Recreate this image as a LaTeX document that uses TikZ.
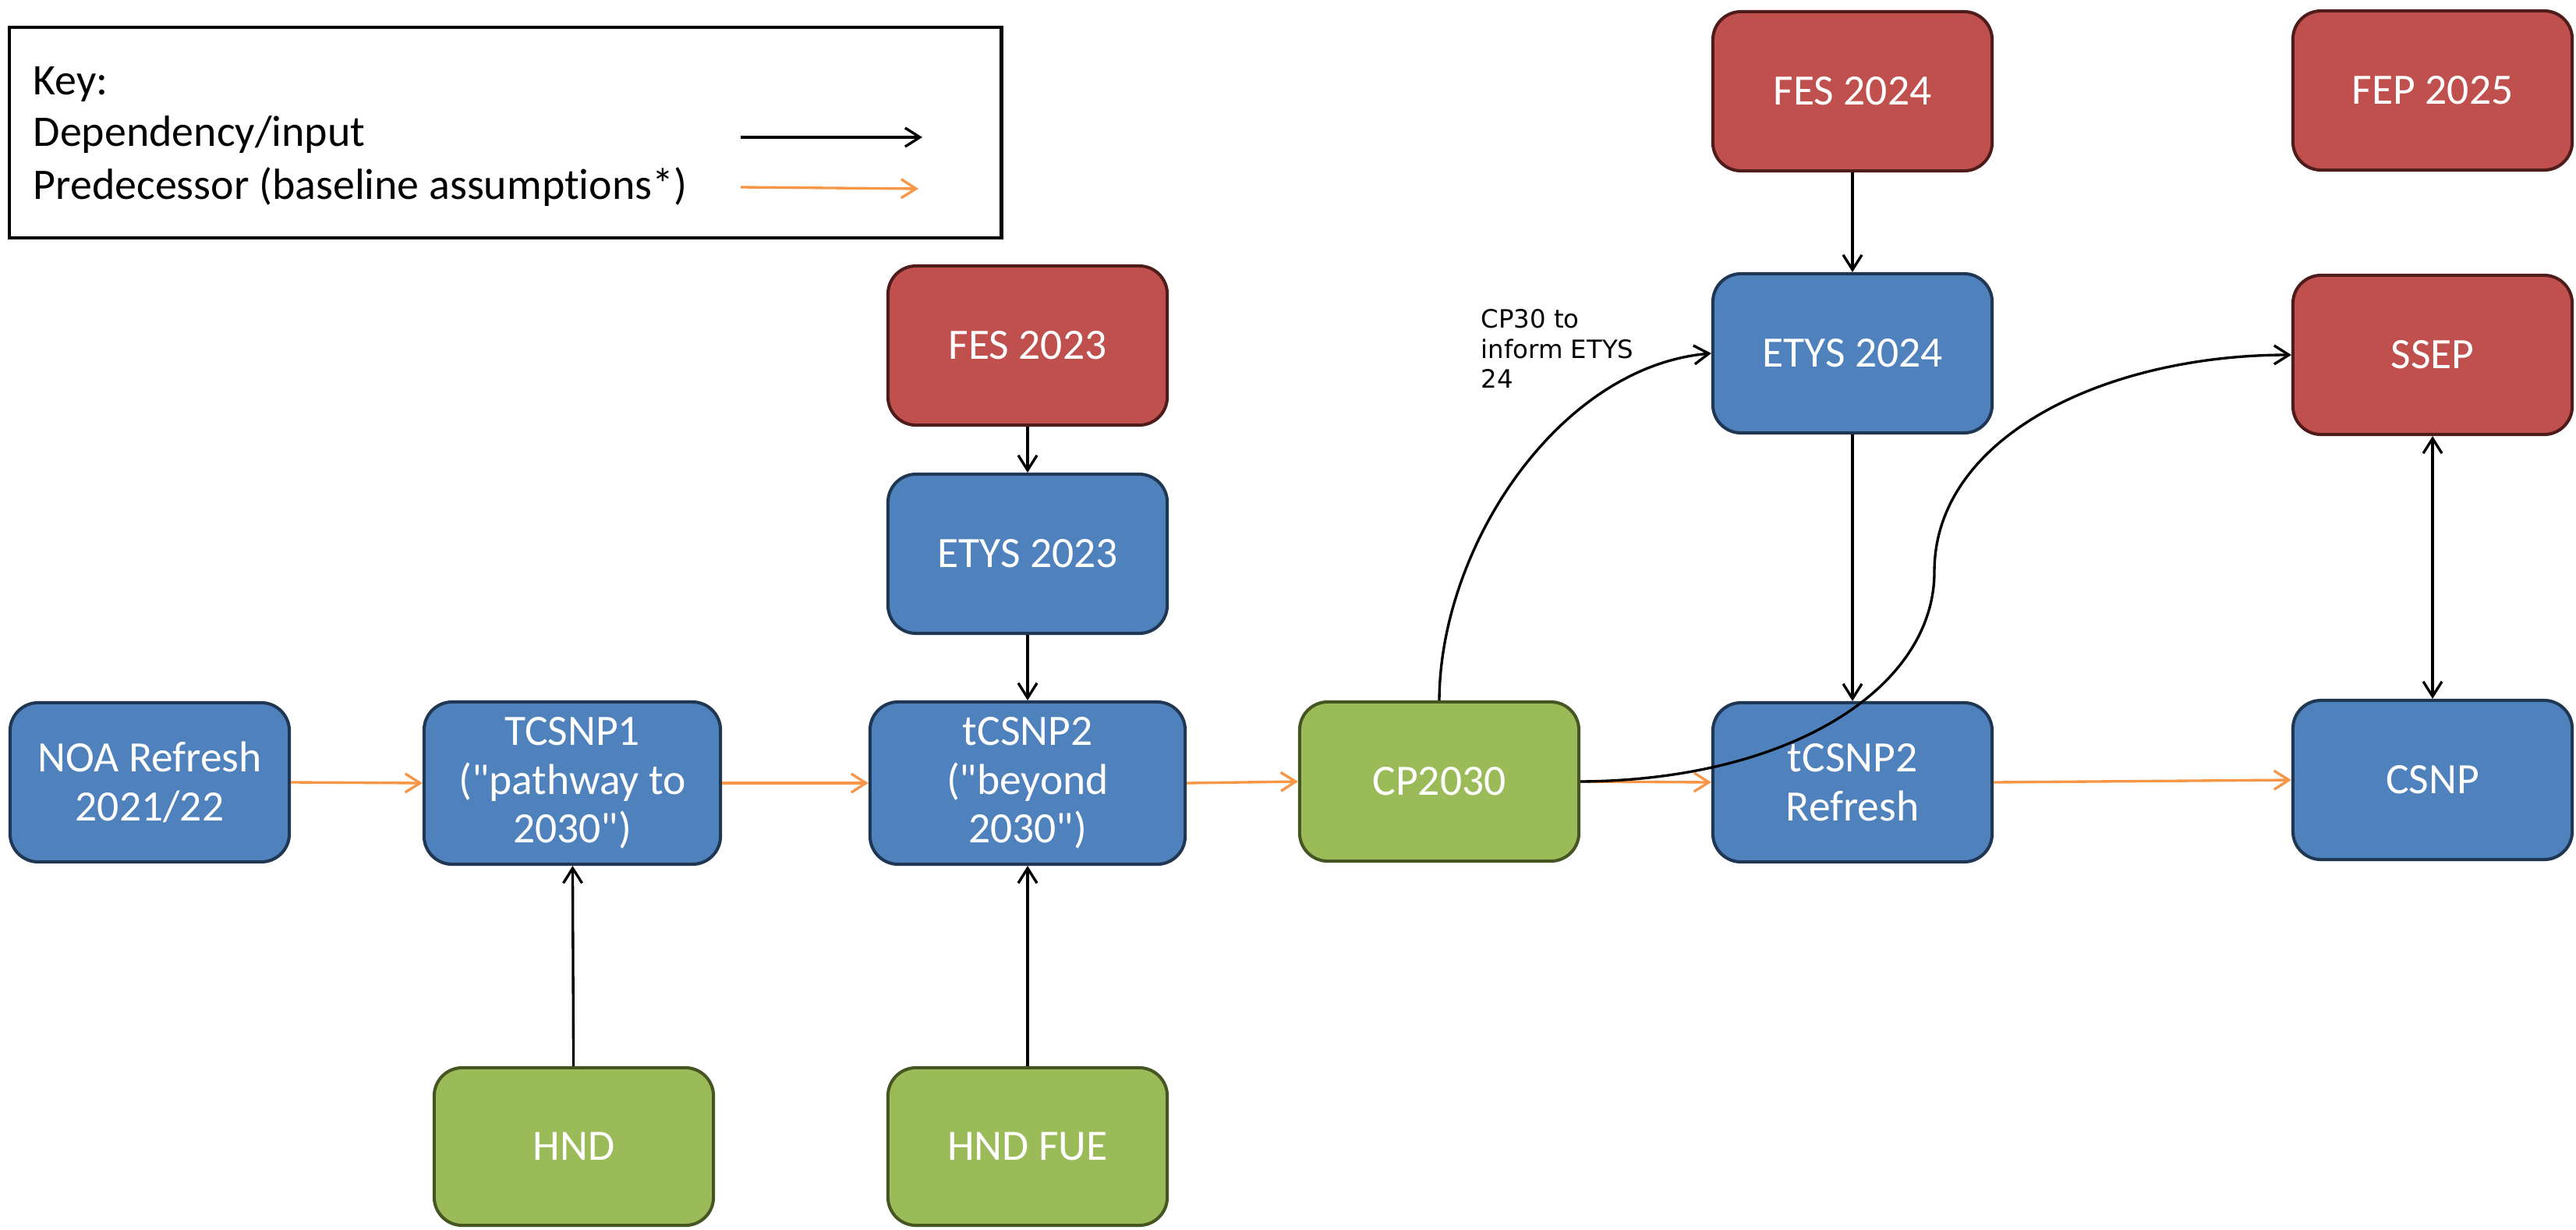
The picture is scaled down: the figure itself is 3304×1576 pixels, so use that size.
\documentclass[tikz,border=0pt]{standalone}
\usepackage{fontspec}
\setmainfont{Carlito}[Ligatures={CommonOff,TeXOff}]
\newfontfamily\lblfont{DejaVu Sans}
\usetikzlibrary{arrows.meta}
\definecolor{bfill}{HTML}{4F81BD}
\definecolor{bdraw}{HTML}{1F3752}
\definecolor{rfill}{HTML}{C0504D}
\definecolor{rdraw}{HTML}{4F1C1C}
\definecolor{gfill}{HTML}{9BBB59}
\definecolor{gdraw}{HTML}{465623}
\definecolor{orng}{HTML}{F79646}
\tikzset{
  box/.style={rectangle, rounded corners=0.36cm, line width=1.15pt, inner sep=0pt,
    minimum width=3.58cm, minimum height=2.04cm, align=center, text=white,
    font=\fontsize{15.8}{17.8}\selectfont},
  bluebox/.style={box, fill=bfill, draw=bdraw},
  redbox/.style={box, fill=rfill, draw=rdraw},
  greenbox/.style={box, fill=gfill, draw=gdraw},
  dep/.style={line width=0.95pt, draw=black, -{Straight Barb[length=0.19cm,width=0.24cm]}},
  pred/.style={line width=0.95pt, draw=orng, -{Straight Barb[length=0.19cm,width=0.24cm]}},
  keytext/.style={anchor=base west, inner sep=0pt, font=\fontsize{15.9}{18}\selectfont}
}
\begin{document}
\begin{tikzpicture}[x=0.01cm, y=-0.01cm]
\useasboundingbox (0,0) rectangle (3304,1576);
% key
\node[draw=black, line width=1.2pt, minimum width=12.72cm, minimum height=2.70cm, inner sep=0pt] (key) at (648,170) {};
\node[keytext] (k1) at (42,122) {Key:};
\node[keytext] (k2) at (42,188) {Dependency/input};
\node[keytext] (k3) at (42,255) {Predecessor (baseline assumptions*)};
\coordinate (ka1) at (950,176);
\coordinate (kb1) at (1183,176);
\coordinate (ka2) at (950,240);
\coordinate (kb2) at (1178,242);
\draw[dep] (ka1) -- (kb1);
\draw[pred] (ka2) -- (kb2);
% nodes
\node[bluebox] (noa) at (192,1003) {NOA Refresh\\2021/22};
\node[bluebox, minimum width=3.80cm, minimum height=2.08cm] (tcsnp1) at (734,1004) {TCSNP1\\("pathway to\\2030")};
\node[bluebox, minimum width=4.04cm, minimum height=2.08cm] (tcsnp2) at (1318,1004) {tCSNP2\\("beyond\\2030")};
\node[greenbox] (cp) at (1846,1002) {CP2030};
\node[bluebox] (refresh) at (2376,1003) {tCSNP2\\Refresh};
\node[bluebox] (csnp) at (3120,1000) {CSNP};
\node[redbox] (fes23) at (1318,443) {FES 2023};
\node[bluebox] (etys23) at (1318,710) {ETYS 2023};
\node[redbox] (fes24) at (2376,117) {FES 2024};
\node[bluebox] (etys24) at (2376,453) {ETYS 2024};
\node[redbox] (fep) at (3120,116) {FEP 2025};
\node[redbox] (ssep) at (3120,455) {SSEP};
\node[greenbox, minimum height=2.02cm] (hnd) at (736,1470) {HND};
\node[greenbox, minimum height=2.02cm] (hndfue) at (1318,1470) {HND FUE};
% label
\node[anchor=north west, inner sep=0pt, align=left, font=\lblfont\fontsize{9.2}{10.9}\selectfont] (lbl) at (1899,396) {CP30 to\\inform ETYS\\24};
% predecessor arrows
\draw[pred] (noa.east) -- (tcsnp1.west);
\draw[pred] (tcsnp1.east) -- (tcsnp2.west);
\draw[pred] (tcsnp2.east) -- (cp.west);
\draw[pred] (cp.east) -- (refresh.west);
\draw[pred] (refresh.east) -- (csnp.west);
% dependencies
\draw[dep] (fes23) -- (etys23);
\draw[dep] (etys23) -- (tcsnp2);
\draw[dep] (hnd) -- (tcsnp1);
\draw[dep] (hndfue) -- (tcsnp2);
\draw[dep] (fes24) -- (etys24);
\draw[dep] (etys24) -- (refresh);
\draw[dep, {Straight Barb[length=0.19cm,width=0.24cm]}-{Straight Barb[length=0.19cm,width=0.24cm]}] (ssep) -- (csnp);
\draw[dep] (cp.north) .. controls (1847,700) and (2000,470) .. (etys24.west);
\coordinate (bend) at (2481,733);
\draw[dep] (cp.east) .. controls (2300,1000) and (2481,880) .. (bend) .. controls (2481,560) and (2700,455) .. (ssep.west);
\end{tikzpicture}
\end{document}
